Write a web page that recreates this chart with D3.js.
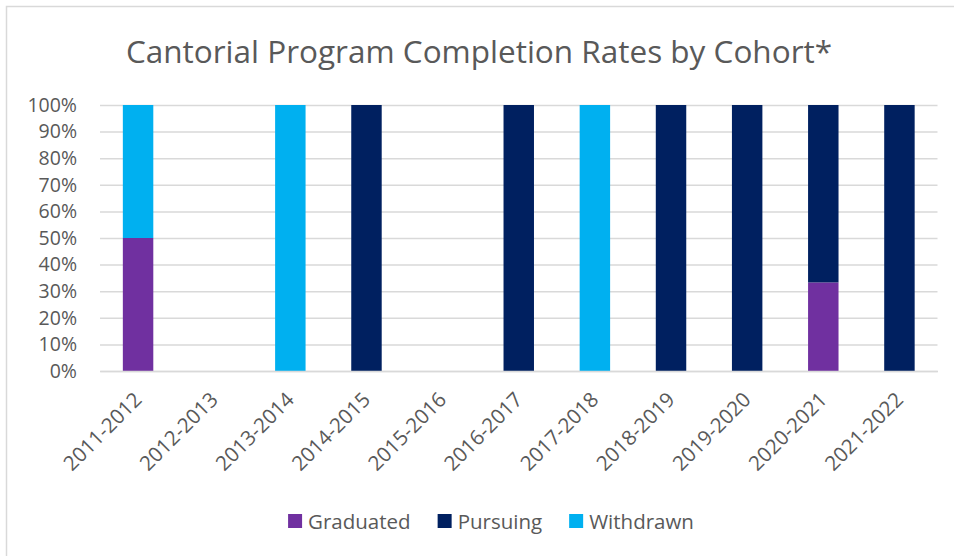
<!DOCTYPE html>
<html>
<head>
<meta charset="utf-8">
<script src="https://cdn.jsdelivr.net/npm/d3@7"></script>
<style>
  body { margin: 0; background: #fff; }
  text { font-family: "Open Sans", sans-serif; fill: #595959; }
</style>
</head>
<body>
<div class="chartContainer"></div>
<script>
// data
var cohorts = ['2011-2012', '2012-2013', '2013-2014', '2014-2015', '2015-2016', '2016-2017',
               '2017-2018', '2018-2019', '2019-2020', '2020-2021', '2021-2022'];
var graduated = [0.5, 0, 0, 0, 0, 0, 0, 0, 0, 0.333, 0];
var pursuing  = [0,   0, 0, 1, 0, 1, 0, 1, 1, 0.667, 1];
var withdrawn = [0.5, 0, 1, 0, 0, 0, 1, 0, 0, 0,     0];
var seriesNames = ['Graduated', 'Pursuing', 'Withdrawn'];
var yTicks = [0, 0.1, 0.2, 0.3, 0.4, 0.5, 0.6, 0.7, 0.8, 0.9, 1];

var colours = ['#7030A0', '#002060', '#00B0F0'];

var width = 954;
var height = 556;
var plot = {left: 100, right: 937.5, top: 105, bottom: 371};

var rows = cohorts.map(function(c, i) {
    return {cohort: c, Graduated: graduated[i], Pursuing: pursuing[i], Withdrawn: withdrawn[i]};
});
var stacked = d3.stack().keys(seriesNames)(rows);

var svg = d3.select('.chartContainer')
            .append('svg')
              .attr('width', width)
              .attr('height', height);

// chart border (runs off the right / bottom edge in the picture)
svg.append('rect')
    .attr('x', 6.5).attr('y', 6.5)
    .attr('width', 1000).attr('height', 600)
    .attr('fill', 'none')
    .attr('stroke', '#d9d9d9')
    .attr('stroke-width', 1.5);

var xScale = d3.scaleBand()
               .domain(cohorts)
               .range([plot.left, plot.right])
               .paddingInner(0.6)
               .paddingOuter(0.3);

var yScale = d3.scaleLinear()
               .domain([0, 1])
               .range([plot.bottom, plot.top]);

// title
svg.append('text')
    .attr('x', 479)
    .attr('y', 63)
    .attr('text-anchor', 'middle')
    .style('font-size', '31.5px')
    .text('Cantorial Program Completion Rates by Cohort*');

// gridlines + y labels
var yAxis = svg.append('g')
    .attr('transform', `translate(${plot.left}, 0)`)
    .call(d3.axisLeft(yScale)
            .tickValues(yTicks)
            .tickSize(-(plot.right - plot.left))
            .tickPadding(23)
            .tickFormat(d3.format('.0%')));
yAxis.select('.domain').remove();
yAxis.selectAll('.tick line').attr('stroke', '#d9d9d9').attr('stroke-width', 1.5);
yAxis.selectAll('.tick text')
    .attr('fill', '#595959')
    .style('font-family', '"Open Sans", sans-serif')
    .style('font-size', '19.5px');

// bars
svg.append('g')
    .selectAll('g')
    .data(stacked)
    .enter()
      .append('g')
        .attr('fill', function(d, i) { return colours[i]; })
      .selectAll('rect')
      .data(function(d) { return d; })
      .enter()
        .append('rect')
          .attr('x', function(d) { return xScale(d.data.cohort); })
          .attr('y', function(d) { return yScale(d[1]); })
          .attr('width', xScale.bandwidth())
          .attr('height', function(d) { return yScale(d[0]) - yScale(d[1]); });

// x axis
var xAxis = svg.append('g')
    .attr('transform', `translate(0, ${plot.bottom})`)
    .call(d3.axisBottom(xScale).tickSize(0).tickSizeOuter(0));
xAxis.select('.domain').attr('stroke', '#d9d9d9').attr('stroke-width', 1.5);
xAxis.selectAll('.tick text')
    .attr('fill', '#595959')
    .style('font-family', '"Open Sans", sans-serif')
    .style('font-size', '20.5px')
    .attr('text-anchor', 'end')
    .attr('dy', '0')
    .attr('y', 0)
    .attr('transform', 'translate(5, 30) rotate(-45)');

// legend
var legend = svg.append('g');
var lx = 0;
seriesNames.forEach(function(name, i) {
    var item = legend.append('g').attr('transform', `translate(${lx}, 0)`);
    item.append('rect')
        .attr('x', 0).attr('y', -7)
        .attr('width', 14).attr('height', 14)
        .attr('fill', colours[i]);
    var t = item.append('text')
        .attr('x', 20)
        .attr('y', 7.5)
        .style('font-size', '20.5px')
        .text(name);
    lx += 20 + t.node().getComputedTextLength() + 27;
});
var legendWidth = lx - 27;
legend.attr('transform', `translate(${491 - legendWidth / 2}, 521)`);
</script>
</body>
</html>
